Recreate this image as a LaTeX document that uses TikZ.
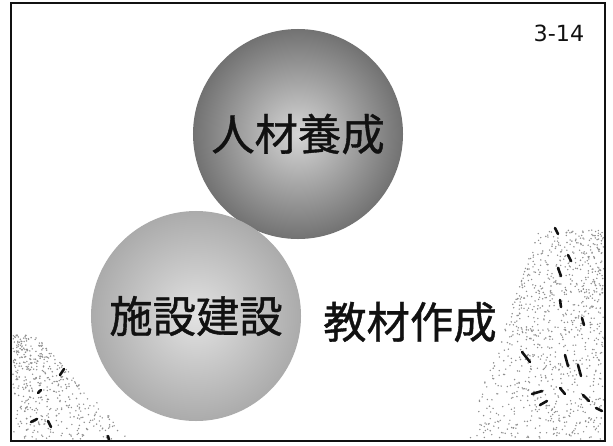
\documentclass[tikz,border=0pt]{standalone}
\usepackage{fontspec}
\setmainfont{DejaVu Sans}
\newfontfamily\jpfont[FakeBold=0.9]{Noto Sans CJK JP}
\usetikzlibrary{positioning}
\definecolor{ink}{HTML}{111111}
\definecolor{ballrim}{HTML}{727272}
\definecolor{ballhi}{HTML}{D6D6D6}
\definecolor{palerim}{HTML}{ABABAB}
\definecolor{palehi}{HTML}{E2E2E2}
\definecolor{speck}{HTML}{8E8E8E}
\tikzset{
  ball/.style 2 args={circle,inner color=#2,outer color=#1,minimum size=6.3cm,inner sep=0pt,
    font=\jpfont\fontsize{37}{40}\selectfont,text=ink},
  word/.style={font=\jpfont\fontsize{37}{40}\selectfont,text=ink,inner sep=0pt},
  pageno/.style={font=\fontsize{19}{22}\selectfont,text=ink,inner sep=0pt},
  dot/.style={fill=speck},
  twig/.style={draw=ink,line width=2.2pt,line cap=round},
}

\begin{document}
\begin{tikzpicture}[x=0.03cm,y=-0.03cm]
  \useasboundingbox[fill=white] (0,0) rectangle (613,445);
  \pgfmathsetseed{314}
  % speckled texture, lower left corner
  \foreach \i in {1,...,450}{
    \pgfmathsetmacro\py{335+104*rnd}
    \pgfmathsetmacro\px{13+(22+95*(\py-335)/104)*rnd}
    \fill[dot] (\px,\py) circle[radius=0.8];
  }
  % speckled texture, right side
  \foreach \i in {1,...,950}{
    \pgfmathsetmacro\py{230+209*rnd}
    \pgfmathsetmacro\px{604-(65+75*(\py-230)/209)*rnd}
    \fill[dot] (\px,\py) circle[radius=0.8];
  }
  % dark twigs in the texture
  \foreach \a/\b/\c/\d in {555/228/558/234,568/255/571/261,558/268/561/276,560/300/561/307,
      582/318/584/325,522/352/530/362,565/355/568/366,578/365/581/376,532/394/542/391,
      560/388/565/394,540/405/547/401,583/395/589/401,596/408/602/411,
      60/375/64/369,38/393/41/390,31/422/37/419,48/421/51/427,108/436/109/440}
    \draw[twig] (\a,\b) -- (\c,\d);
  % frame and page number
  \draw[ink,line width=1.5pt] (11,3) rectangle (605,441);
  \node[pageno] (no) at (559,33) {3-14};
  % the two balls and the free word
  \node[ball={ballrim}{ballhi}] (hr) at (298,134) {人材養成};
  \node[ball={palerim}{palehi}] (fc) at (196,316) {施設建設};
  \node[word] (tm) at (410,322) {教材作成};
\end{tikzpicture}
\end{document}
